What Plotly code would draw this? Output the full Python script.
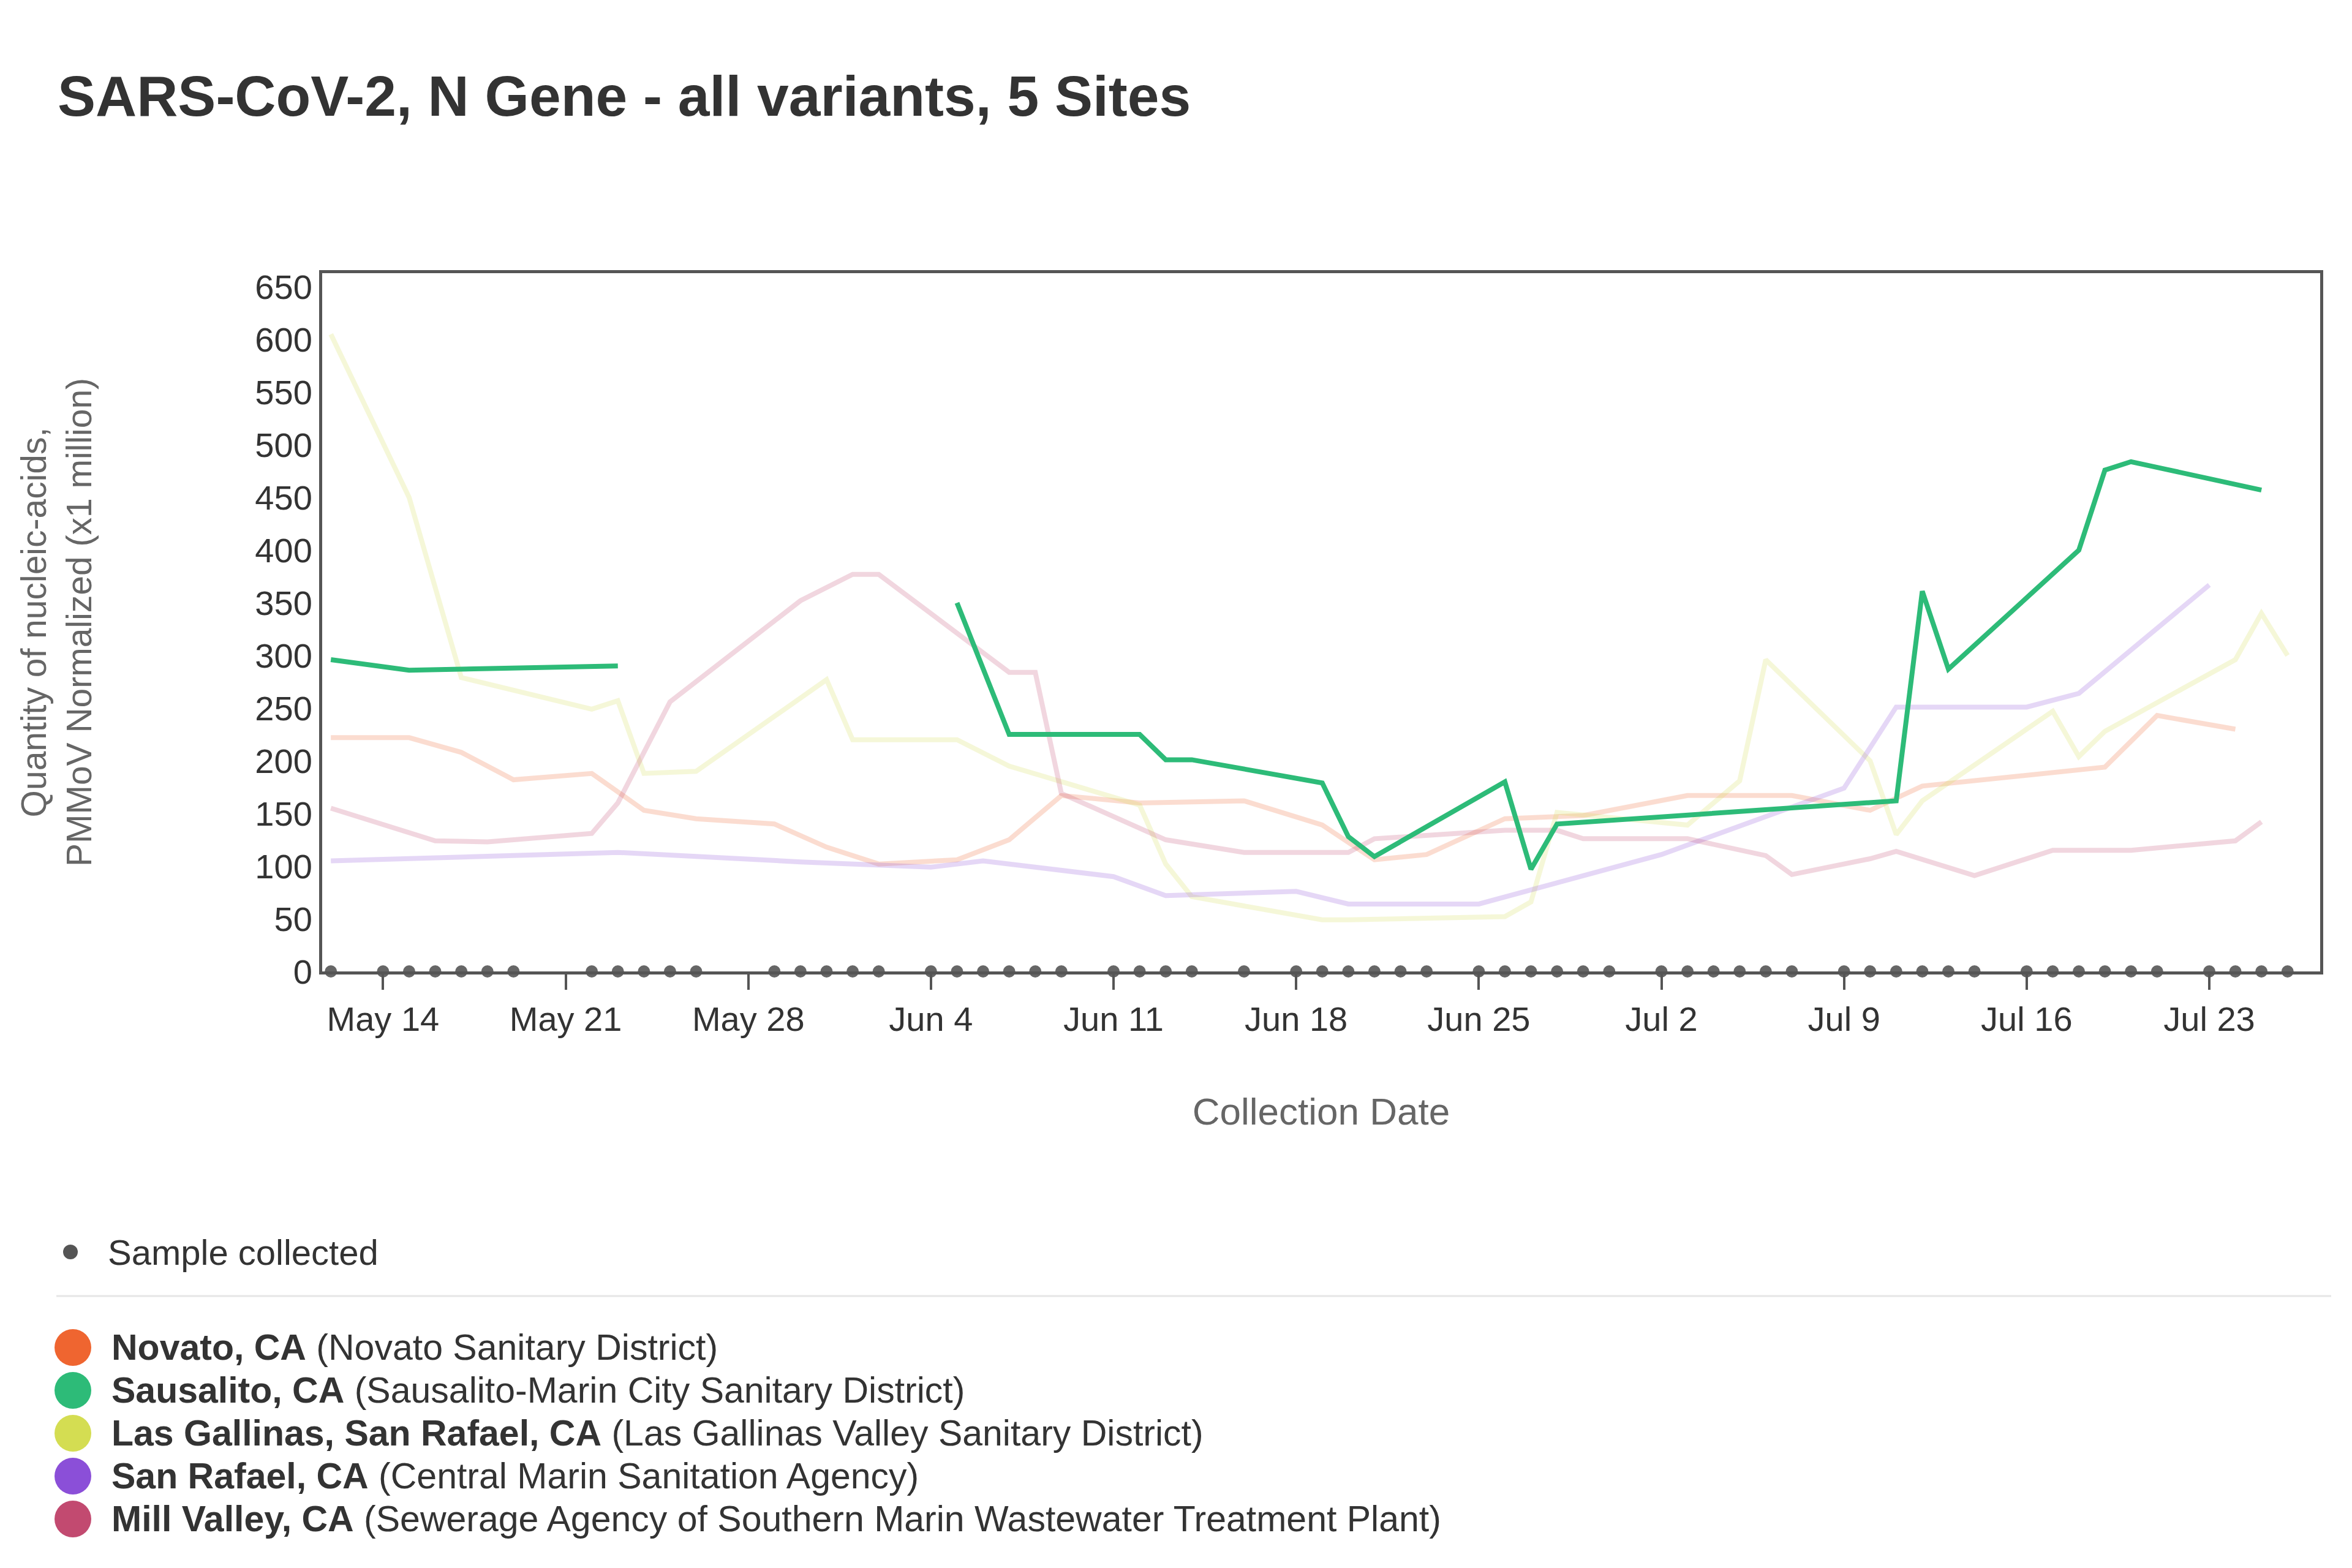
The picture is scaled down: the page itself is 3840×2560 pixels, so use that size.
import plotly.graph_objects as go

W, H = 3840, 2560
ML, MR, MT, MB = 518, 60, 438, 982

novato_dates = ["2022-05-12","2022-05-15","2022-05-17","2022-05-19","2022-05-22","2022-05-24","2022-05-26","2022-05-29","2022-05-31","2022-06-02","2022-06-05","2022-06-07","2022-06-09","2022-06-12","2022-06-16","2022-06-19","2022-06-21","2022-06-23","2022-06-26","2022-06-29","2022-07-03","2022-07-07","2022-07-10","2022-07-12","2022-07-19","2022-07-21","2022-07-24"]
novato_vals = [222,222,208,182,188,153,145,140,118,102,106,125,167,160,162,139,106,111,145,148,167,167,153,176,194,243,230]

saus_dates = ["2022-05-12","2022-05-15","2022-05-23","2022-05-28","2022-06-05","2022-06-07","2022-06-08","2022-06-12","2022-06-13","2022-06-14","2022-06-19","2022-06-20","2022-06-21","2022-06-26","2022-06-27","2022-06-28","2022-07-11","2022-07-12","2022-07-13","2022-07-18","2022-07-19","2022-07-20","2022-07-25"]
saus_vals = [296,286,290,None,350,225,225,225,201,201,179,128,109,180,97,140,162,361,287,400,476,484,457]

lg_dates = ["2022-05-12","2022-05-15","2022-05-17","2022-05-22","2022-05-23","2022-05-24","2022-05-26","2022-05-31","2022-06-01","2022-06-05","2022-06-07","2022-06-12","2022-06-13","2022-06-14","2022-06-19","2022-06-20","2022-06-26","2022-06-27","2022-06-28","2022-07-03","2022-07-05","2022-07-06","2022-07-10","2022-07-11","2022-07-12","2022-07-17","2022-07-18","2022-07-19","2022-07-24","2022-07-25","2022-07-26"]
lg_vals = [605,450,279,249,257,188,190,277,220,220,195,158,102,71,49,49,52,66,151,139,181,296,200,130,162,247,204,228,296,340,300]

sr_dates = ["2022-05-12","2022-05-23","2022-05-30","2022-06-04","2022-06-06","2022-06-11","2022-06-13","2022-06-18","2022-06-20","2022-06-25","2022-07-02","2022-07-09","2022-07-11","2022-07-16","2022-07-18","2022-07-23"]
sr_vals = [105,113,104,99,105,90,72,76,64,64,111,174,251,251,264,367]

mv_dates = ["2022-05-12","2022-05-16","2022-05-18","2022-05-22","2022-05-23","2022-05-25","2022-05-30","2022-06-01","2022-06-02","2022-06-07","2022-06-08","2022-06-09","2022-06-13","2022-06-16","2022-06-20","2022-06-21","2022-06-26","2022-06-28","2022-06-29","2022-07-03","2022-07-06","2022-07-07","2022-07-10","2022-07-11","2022-07-14","2022-07-17","2022-07-20","2022-07-24","2022-07-25"]
mv_vals = [155,124,123,131,160,256,352,377,377,284,284,169,125,113,113,126,134,134,126,126,110,92,107,114,91,115,115,124,142]

sample_dates = ["2022-05-12","2022-05-14","2022-05-15","2022-05-16","2022-05-17","2022-05-18","2022-05-19",
 "2022-05-22","2022-05-23","2022-05-24","2022-05-25","2022-05-26",
 "2022-05-29","2022-05-30","2022-05-31","2022-06-01","2022-06-02",
 "2022-06-04","2022-06-05","2022-06-06","2022-06-07","2022-06-08","2022-06-09",
 "2022-06-11","2022-06-12","2022-06-13","2022-06-14","2022-06-16",
 "2022-06-18","2022-06-19","2022-06-20","2022-06-21","2022-06-22","2022-06-23",
 "2022-06-25","2022-06-26","2022-06-27","2022-06-28","2022-06-29","2022-06-30",
 "2022-07-02","2022-07-03","2022-07-04","2022-07-05","2022-07-06","2022-07-07",
 "2022-07-09","2022-07-10","2022-07-11","2022-07-12","2022-07-13","2022-07-14",
 "2022-07-16","2022-07-17","2022-07-18","2022-07-19","2022-07-20","2022-07-21",
 "2022-07-23","2022-07-24","2022-07-25","2022-07-26"]

legend_names = ["Novato, CA","Sausalito, CA","Las Gallinas, San Rafael, CA","San Rafael, CA","Mill Valley, CA"]
legend_desc = ["(Novato Sanitary District)","(Sausalito-Marin City Sanitary District)","(Las Gallinas Valley Sanitary District)","(Central Marin Sanitation Agency)","(Sewerage Agency of Southern Marin Wastewater Treatment Plant)"]
colors = ["#ef6530","#2dbb78","#d4dd52","#8b4fd8","#c24a70"]

FONT = "Liberation Sans"
fig = go.Figure()
faint = 0.22
series = [(novato_dates, novato_vals, 0), (lg_dates, lg_vals, 2), (sr_dates, sr_vals, 3), (mv_dates, mv_vals, 4)]
for d, v, ci in series:
    fig.add_trace(go.Scatter(x=d, y=v, mode="lines", line=dict(color=colors[ci], width=8),
                             opacity=faint, connectgaps=False, showlegend=False))
fig.add_trace(go.Scatter(x=saus_dates, y=saus_vals, mode="lines", line=dict(color=colors[1], width=8),
                         connectgaps=False, showlegend=False))
fig.add_trace(go.Scatter(x=sample_dates, y=[0]*len(sample_dates), mode="markers",
                         marker=dict(color="#666666", size=20), cliponaxis=False, showlegend=False))

pw, ph = W - ML - MR, H - MT - MB
def px(x): return (x - ML) / pw
def py(y): return (H - MB - y) / ph

fig.update_layout(
    width=W, height=H, margin=dict(l=ML, r=MR, t=MT, b=MB),
    paper_bgcolor="white", plot_bgcolor="white",
    font=dict(family=FONT, color="#333333", size=55),
    xaxis=dict(type="date", range=["2022-05-11 16:00", "2022-07-27 06:00"],
               tick0="2022-05-14", dtick=7*86400000, tickformat="%b %-d",
               ticks="outside", ticklen=25, tickwidth=4, tickcolor="#555555",
               showgrid=False, zeroline=False, showline=True, linecolor="#555555", linewidth=5, mirror=True,
               tickfont=dict(size=56, color="#333333"),
               title=dict(text="Collection Date", font=dict(size=62, color="#666666"), standoff=100)),
    yaxis=dict(range=[0, 663], tickvals=list(range(0, 651, 50)), showgrid=False, zeroline=False,
               showline=True, linecolor="#555555", linewidth=5, mirror=True,
               ticks="", tickfont=dict(size=56, color="#333333"),
               title=dict(text="Quantity of nucleic-acids,<br>PMMoV Normalized (x1 million)",
                          font=dict(size=57, color="#666666"), standoff=250)),
)

ann = [dict(text="<b>SARS-CoV-2, N Gene - all variants, 5 Sites</b>", x=px(84), y=py(149),
            xref="paper", yref="paper", xanchor="left", yanchor="middle", showarrow=False,
            font=dict(size=93, color="#333333", family=FONT))]
shapes = []
r = 12
shapes.append(dict(type="circle", xref="paper", yref="paper", x0=px(107 - r), x1=px(107 + r),
                   y0=py(2036 + r), y1=py(2036 - r), fillcolor="#555555", line=dict(width=0)))
ann.append(dict(text="Sample collected", x=px(166), y=py(2036), xref="paper", yref="paper",
                xanchor="left", yanchor="middle", showarrow=False, font=dict(size=58, color="#333333")))
shapes.append(dict(type="line", xref="paper", yref="paper", x0=px(84), x1=px(3798), y0=py(2108), y1=py(2108),
                   line=dict(color="#e6e6e6", width=3)))
R = 30
for i, (n, dsc) in enumerate(zip(legend_names, legend_desc)):
    yc = 2192 + i * 70
    shapes.append(dict(type="circle", xref="paper", yref="paper", x0=px(111 - R), x1=px(111 + R),
                       y0=py(yc + R), y1=py(yc - R), fillcolor=colors[i], line=dict(width=0)))
    ann.append(dict(text=f"<b>{n}</b> {dsc}", x=px(172), y=py(yc), xref="paper", yref="paper",
                    xanchor="left", yanchor="middle", showarrow=False, font=dict(size=59, color="#333333")))
fig.update_layout(annotations=ann, shapes=shapes)
fig.write_html("out.html")
